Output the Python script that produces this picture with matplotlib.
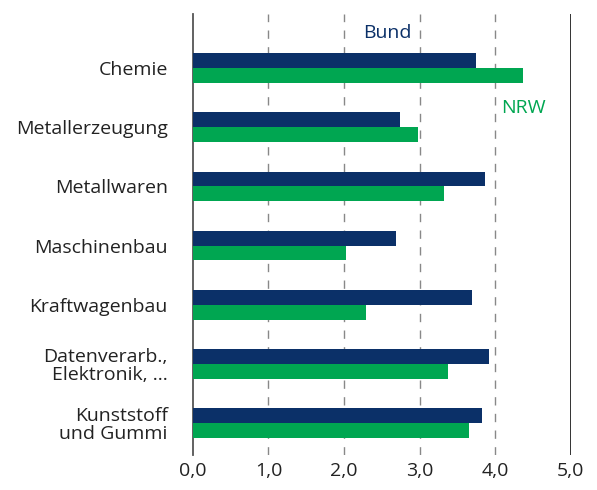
import matplotlib
matplotlib.use("Agg")
import matplotlib.pyplot as plt
import numpy as np

categories = ["Chemie", "Metallerzeugung", "Metallwaren", "Maschinenbau",
              "Kraftwagenbau", "Datenverarb.,\nElektronik, ...", "Kunststoff\nund Gummi"]
bund = [3.74, 2.74, 3.86, 2.69, 3.69, 3.92, 3.83]
nrw = [4.37, 2.98, 3.32, 2.02, 2.29, 3.37, 3.66]
xticks = [0, 1, 2, 3, 4, 5]
xticklabels = ["0,0", "1,0", "2,0", "3,0", "4,0", "5,0"]

navy = "#0b3068"
green = "#00a651"

plt.rcParams['font.family'] = ['Open Sans', 'DejaVu Sans']

fig = plt.figure(figsize=(5.97, 4.9), dpi=100)
ax = fig.add_axes([0.323, 0.071, 0.633, 0.9])

y = np.arange(len(categories))
h = 0.25
ax.barh(y - h / 2, bund, height=h, color=navy, zorder=3)
ax.barh(y + h / 2, nrw, height=h, color=green, zorder=3)

for gx in [1, 2, 3, 4]:
    ax.axvline(gx, color="#888888", lw=1, ls=(0, (6, 6)), zorder=1)
ax.axvline(5, color="#222222", lw=1.3, zorder=1)

ax.set_xlim(0, 5)
ax.set_ylim(6.54, -0.91)
ax.set_yticks(y)
ax.set_yticklabels(categories, fontsize=14, color="#222222", linespacing=1.0)
ax.set_xticks(xticks)
ax.set_xticklabels(xticklabels, fontsize=14, color="#222222")
ax.tick_params(length=0, pad=5)
ax.tick_params(axis="y", pad=18)

for s in ["top", "right", "bottom"]:
    ax.spines[s].set_visible(False)
ax.spines["left"].set_color("#555555")
ax.spines["left"].set_linewidth(1.3)

ax.text(2.9, -0.6, "Bund", color=navy, fontsize=14, ha="right", va="center")
ax.text(4.08, 0.67, "NRW", color=green, fontsize=14, ha="left", va="center")

fig.savefig("out.png", dpi=100)
